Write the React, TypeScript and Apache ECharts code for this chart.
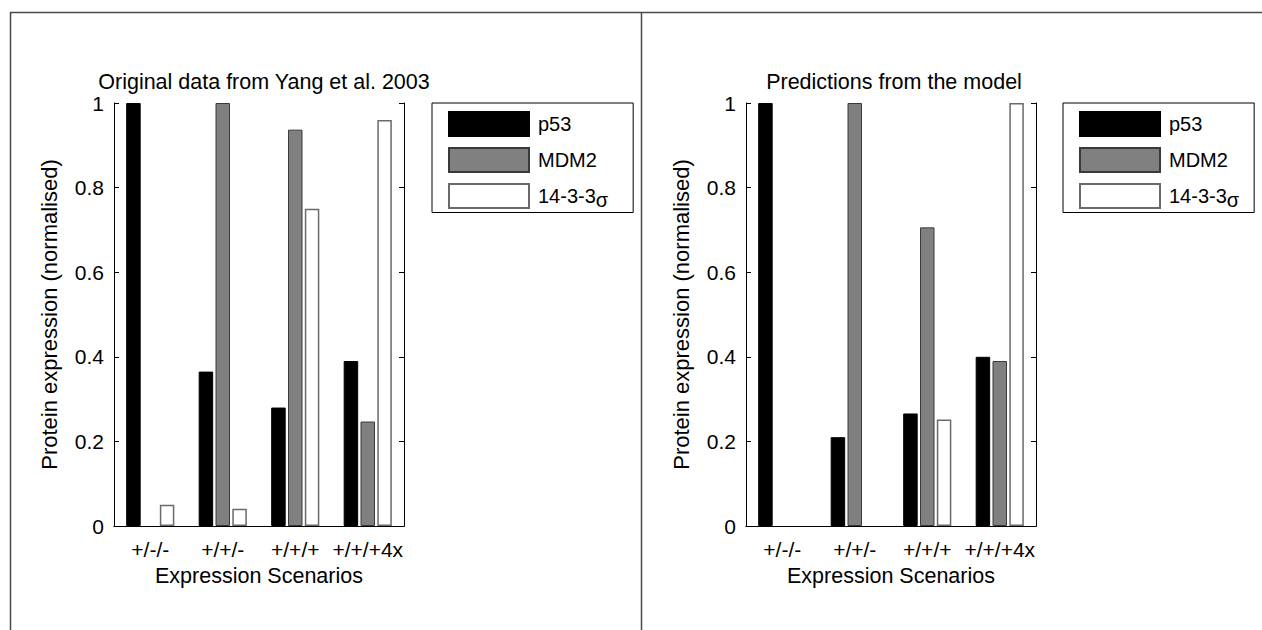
import React, { useEffect, useRef } from "react";
import * as echarts from "echarts";

const categories = ["+/-/-", "+/+/-", "+/+/+", "+/+/+4x"];
const seriesNames = ["p53", "MDM2", "14-3-3σ"];
// Original data from Yang et al. 2003
const dataP53 = [1.0, 0.365, 0.28, 0.39];
const dataMDM2 = [0, 1.0, 0.937, 0.247];
const data1433 = [0.05, 0.041, 0.75, 0.96];
// Predictions from the model
const modelP53 = [1.0, 0.21, 0.266, 0.4];
const modelMDM2 = [0, 1.0, 0.706, 0.39];
const model1433 = [0, 0, 0.252, 1.0];

const FONT = "Liberation Sans, Arial, Helvetica, sans-serif";

export default function App() {
  const ref = useRef<HTMLDivElement>(null);
  useEffect(() => {
    if (!ref.current) return;
    const chart = echarts.init(ref.current, null, { renderer: "svg" });
    const grids = [
      { left: 114, top: 103, width: 290, height: 423 },
      { left: 746, top: 103, width: 290, height: 423 },
    ];
    const styles = [
      { color: "#000000", borderColor: "#000000", borderWidth: 1 },
      { color: "#808080", borderColor: "#3a3a3a", borderWidth: 1 },
      { color: "#ffffff", borderColor: "#6a6a6a", borderWidth: 1.5 },
    ];
    const xAxes: any[] = [];
    const yAxes: any[] = [];
    [0, 1].forEach((g) => {
      xAxes.push({
        type: "category",
        gridIndex: g,
        data: categories,
        position: "bottom",
        z: 5,
        name: "Expression Scenarios",
        nameLocation: "middle",
        nameGap: 39,
        nameTextStyle: { fontFamily: FONT, fontSize: 21.5, color: "#000" },
        axisLine: { lineStyle: { color: "#000", width: 1 } },
        axisTick: { inside: true, alignWithLabel: true, length: 5, lineStyle: { color: "#000" } },
        axisLabel: { interval: 0, fontFamily: FONT, fontSize: 21, color: "#000", margin: 13 },
      });
      xAxes.push({
        type: "category",
        gridIndex: g,
        data: categories,
        position: "top",
        z: 5,
        axisLine: { lineStyle: { color: "#000", width: 1 } },
        axisTick: { inside: true, alignWithLabel: true, length: 5, lineStyle: { color: "#000" } },
        axisLabel: { show: false },
      });
      yAxes.push({
        type: "value",
        gridIndex: g,
        min: 0,
        max: 1,
        interval: 0.2,
        position: "left",
        z: 5,
        name: "Protein expression (normalised)",
        nameLocation: "middle",
        nameGap: 54,
        nameTextStyle: { fontFamily: FONT, fontSize: 22, color: "#000" },
        axisLine: { show: true, lineStyle: { color: "#000", width: 1 } },
        axisTick: { show: true, inside: true, length: 5, lineStyle: { color: "#000" } },
        axisLabel: { fontFamily: FONT, fontSize: 21, color: "#000", margin: 10 },
        splitLine: { show: false },
      });
      yAxes.push({
        type: "value",
        gridIndex: g,
        min: 0,
        max: 1,
        interval: 0.2,
        position: "right",
        z: 5,
        axisLine: { show: true, lineStyle: { color: "#000", width: 1 } },
        axisTick: { show: true, inside: true, length: 5, lineStyle: { color: "#000" } },
        axisLabel: { show: false },
        splitLine: { show: false },
      });
    });
    const allData = [
      [dataP53, dataMDM2, data1433],
      [modelP53, modelMDM2, model1433],
    ];
    const series: any[] = [];
    allData.forEach((set, g) => {
      set.forEach((vals, i) => {
        series.push({
          type: "bar",
          name: seriesNames[i],
          xAxisIndex: g * 2,
          yAxisIndex: g * 2,
          data: vals.map((v) => (v === 0 ? { value: 0, itemStyle: { borderWidth: 0 } } : v)),
          z: 1,
          barWidth: 14.5,
          barGap: "16%",
          itemStyle: styles[i],
          emphasis: { disabled: true },
        });
      });
    });
    const legendBase = {
      orient: "vertical",
      top: 103,
      icon: "rect",
      itemWidth: 80,
      itemHeight: 24,
      itemGap: 10,
      borderColor: "#000",
      borderWidth: 1,
      backgroundColor: "#fff",
      selectedMode: false,
      data: seriesNames,
      formatter: (name: string) => (name === "14-3-3σ" ? "14-3-3{s|σ}" : name),
      textStyle: {
        fontFamily: FONT,
        fontSize: 20,
        lineHeight: 24,
        color: "#000",
        padding: [0, 0, 0, 4],
        rich: { s: { fontFamily: FONT, fontSize: 20, padding: [7, 0, 0, 0] } },
      },
    };
    const frame = { stroke: "#4a4a4a", lineWidth: 1.5 };
    chart.setOption({
      animation: false,
      backgroundColor: "#fff",
      title: [
        {
          text: "Original data from Yang et al. 2003",
          left: 259,
          top: 66,
          textAlign: "center",
          textStyle: { fontFamily: FONT, fontSize: 21.5, fontWeight: "normal", color: "#000" },
        },
        {
          text: "Predictions from the model",
          left: 889,
          top: 66,
          textAlign: "center",
          textStyle: { fontFamily: FONT, fontSize: 21.5, fontWeight: "normal", color: "#000" },
        },
      ],
      grid: grids,
      xAxis: xAxes,
      yAxis: yAxes,
      legend: [
        { ...legendBase, left: 432, padding: [8, 25, 3, 16] },
        { ...legendBase, left: 1063, padding: [8, 15, 3, 16] },
      ],
      series,
      graphic: [
        { type: "line", shape: { x1: 10, y1: 12.5, x2: 1262, y2: 12.5 }, style: frame, silent: true },
        { type: "line", shape: { x1: 10.5, y1: 12, x2: 10.5, y2: 630 }, style: frame, silent: true },
        { type: "line", shape: { x1: 641.5, y1: 12, x2: 641.5, y2: 630 }, style: frame, silent: true },
      ],
    });
    return () => chart.dispose();
  }, []);
  return (
    <div
      ref={ref}
      style={{ position: "absolute", left: 0, top: 0, width: 1262, height: 630, background: "#fff" }}
    />
  );
}
